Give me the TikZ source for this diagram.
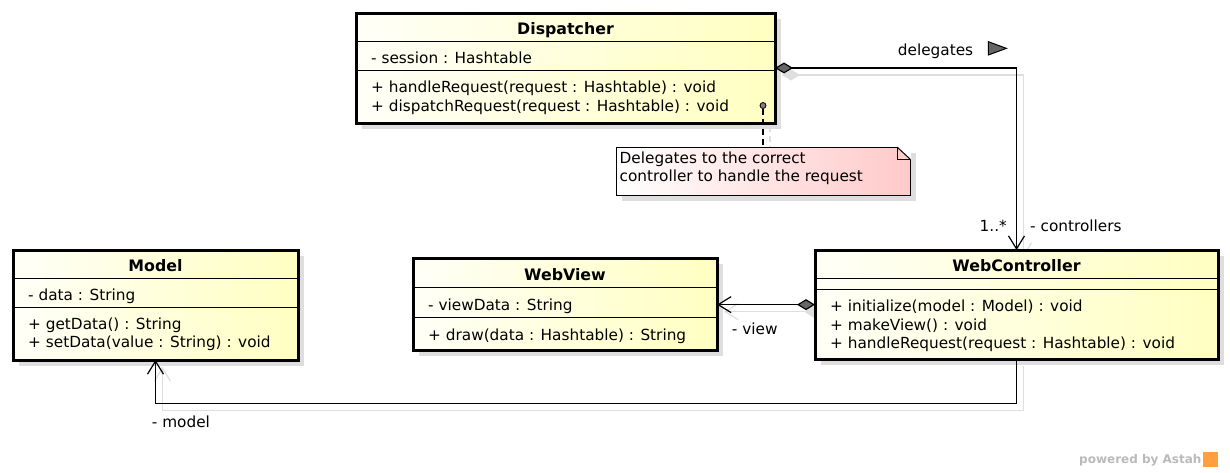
\documentclass[tikz,border=0pt]{standalone}
\usepackage{fontspec}
\setmainfont{DejaVu Sans}
\usetikzlibrary{arrows.meta,
                shadows} % For drop shadow
\pgfdeclarelayer{background}
\pgfdeclarelayer{foreground}
\pgfsetlayers{background,main,foreground}
\newcommand{\umlclass}[9]
{   % #1 = naming of class node
    % #2 = north west corner
    % #3 = width
    % #4 = height
    % #5 = height of name part
    % #6 = height of attribute part
    % #7 = class name
    % #8 = attribute
    % #9 = list of operations
    \node[classbox, minimum width=#3pt, minimum height=#4pt] (#1) at (#2) {};
    \draw[sepline] ([yshift=-#5pt]#1.north west) -- ([yshift=-#5pt]#1.north east);
    \draw[sepline] ([yshift={-#5pt-#6pt}]#1.north west) -- ([yshift={-#5pt-#6pt}]#1.north east);
    \node[classname] (#1-name) at ([yshift={-#5pt/2-7.5pt}]#1.north) {#7};
    \node[member] (#1-attr) at ([xshift=15pt, yshift={-#5pt-#6pt/2-7.5pt}]#1.north west) {#8};
    \foreach \op [count=\i] in {#9}
        \node[member] (#1-op\i) at ([xshift=15pt, yshift={-#5pt-#6pt-22.3pt-(\i-1)*18.5pt}]#1.north west) {\op};
}

\begin{document}
\begin{tikzpicture}[x=1pt, y=-1pt]
    \tikzset
    {
        shadowed/.style = {drop shadow = {shadow xshift = 6pt,
                                          shadow yshift = -6pt,
                                          fill = black!13,
                                          opacity = 1}},
        classbox/.style = {draw,
                           shadowed,
                           line width = 3pt,
                           anchor = north west,
                           inner sep = 0pt,
                           outer sep = 0pt,
                           left color = yellow!3,
                           right color = yellow!24},
        sepline/.style = {line width = 1pt},
        classname/.style = {anchor = base,
                            inner sep = 0pt,
                            font = \fontsize{15.8}{18.5}\selectfont\bfseries},
        member/.style = {anchor = base west,
                         inner sep = 0pt,
                         font = \fontsize{15.3}{18.5}\selectfont},
        rolename/.style = {member},
        notebox/.style = {draw,
                          shadowed,
                          line width = 1pt,
                          anchor = north west,
                          inner sep = 0pt,
                          outer sep = 0pt,
                          minimum width = 294pt,
                          minimum height = 48pt,
                          left color = white,
                          right color = red!21},
        notedot/.style = {circle,
                          draw,
                          line width = 0.8pt,
                          fill = black!50,
                          inner sep = 0pt,
                          minimum size = 6pt},
        association/.style = {line width = 1.2pt,
                               -{Straight Barb[length=13pt, width=16pt]}},
        aggregation/.style = {line width = 1.2pt,
                              {Diamond[length=18pt, width=11pt, fill=#1]}-{Straight Barb[length=13pt, width=16pt]}},
        notelink/.style = {line width = 1.2pt,
                           dash pattern = on 6pt off 4pt},
        dirarrow/.style = {draw,
                           line width = 1pt,
                           fill = black!60},
        watermark/.style = {anchor = base east,
                            inner sep = 0pt,
                            text = black!27,
                            font = \fontsize{12}{14}\selectfont\bfseries}
    };
    \useasboundingbox (0,0) rectangle (1230,472);

    % Classes
    \umlclass{disp}{356,13}{419}{110}{28.5}{29}{Dispatcher}{- session : Hashtable}
        {{+ handleRequest(request : Hashtable) : void}, {+ dispatchRequest(request : Hashtable) : void}}
    \umlclass{model}{13,250}{285}{110}{28}{29}{Model}{- data : String}
        {{+ getData() : String}, {+ setData(value : String) : void}}
    \umlclass{view}{413,258.3}{304}{91.7}{29.4}{30}{WebView}{- viewData : String}
        {{+ draw(data : Hashtable) : String}}
    \umlclass{ctrl}{815,250}{403}{109.3}{28.3}{11}{WebController}{}
        {{+ initialize(model : Model) : void}, {+ makeView() : void}, {+ handleRequest(request : Hashtable) : void}}

    % Note
    \node[notebox] (note) at (616,147) {};
    \fill[white] ([xshift=-13.5pt, yshift=1pt]note.north east) -- ([xshift=1pt, yshift=1pt]note.north east)
        -- ([xshift=1pt, yshift=-12.5pt]note.north east) -- cycle;
    \draw[line width=1pt] ([xshift=-13pt]note.north east) -- ([yshift=-12pt]note.north east);
    \draw[line width=1pt] ([xshift=-13pt]note.north east) |- ([yshift=-12pt]note.north east);
    \foreach \txt [count=\i] in {Delegates to the correct, controller to handle the request}
        \node[member] (note-l\i) at ([xshift=3.5pt, yshift={-16.3pt-(\i-1)*18.4pt}]note.north west) {\txt};
    \node[notedot] (ndot) at (763,105.5) {};

    % Arrows, shadow first
    \foreach \layer/\off/\col/\dia in {background/7/black!13/black!13, foreground/0/black/black!60}
    {
        \begin{pgfonlayer}{\layer}
        \begin{scope}[transform canvas = {shift = {(\off pt, -\off pt)}}, color = \col]
            \draw[aggregation = \dia] (disp.east) -| (ctrl.north);
            \draw[aggregation = \dia] (ctrl.west) -- (ctrl.west -| view.east);
            \draw[association] (ctrl.south) -- ++(0,44) -| (model.south);
            \draw[notelink] (ndot) -- (note.north);
        \end{scope}
        \end{pgfonlayer}
    }

    % Labels
    \node[rolename] (dlg) at (897.7,55) {delegates};
    \draw[dirarrow] ([xshift=15pt]dlg.base east) -- ++(0,-13.3) -- ++(18,6.65) -- cycle;
    \node[rolename, anchor=base east] (mult) at (1007,231.7) {1..*};
    \node[rolename] (ctrls) at (1030,231.7) {- controllers};
    \node[rolename] (viewrole) at (731.7,334) {- view};
    \node[rolename] (modelrole) at (151.7,427.7) {- model};

    % Watermark
    \node[watermark] (astah) at (1201.7,463) {powered by Astah};
    \fill[orange!75] ([xshift=1.5pt, yshift=-3.7pt]astah.base east) rectangle ++(15,-15);
\end{tikzpicture}
\end{document}
